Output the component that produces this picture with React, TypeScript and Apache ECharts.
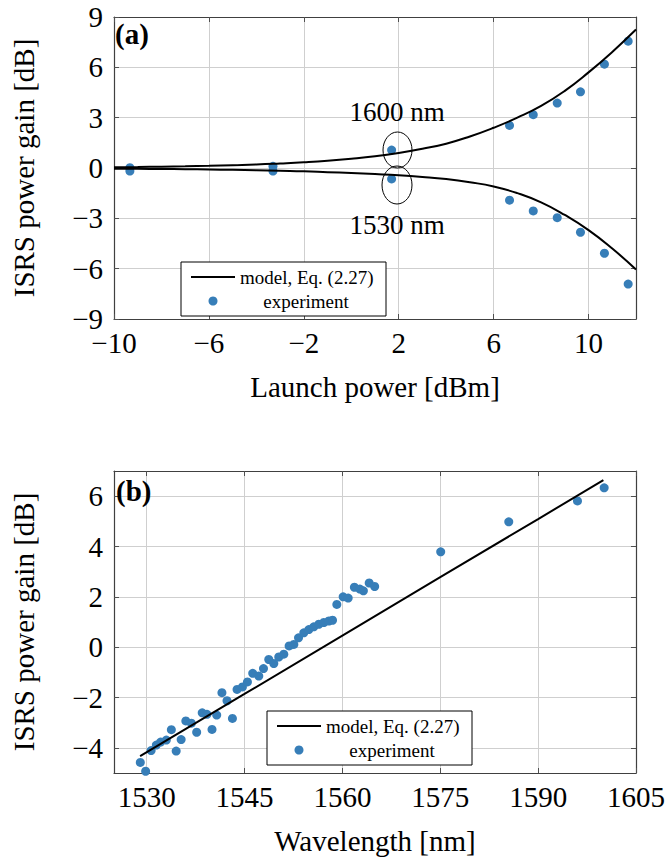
import React, { useEffect, useRef } from "react";
import * as echarts from "echarts";

// ---------- Panel (a) data ----------
const powerTicks = [-10, -6, -2, 2, 6, 10];
const gainTicksA = [-9, -6, -3, 0, 3, 6, 9];

const powerExp = [-9.33, -3.3, 1.7, 6.67, 7.67, 8.68, 9.66, 10.67, 11.67];
const gain1600Exp = [0.02, 0.1, 1.07, 2.54, 3.18, 3.87, 4.54, 6.19, 7.56];
const gain1530Exp = [-0.18, -0.18, -0.65, -1.92, -2.56, -2.96, -3.83, -5.08, -6.92];

const powerModel = [-10, -9, -8, -7, -6, -5, -4, -3, -2, -1, 0, 1, 2, 3, 4, 5, 6, 7, 8, 9, 10, 11, 12];
const gain1600Model = [
  0.05, 0.06, 0.08, 0.1, 0.13, 0.17, 0.21, 0.27, 0.34, 0.43, 0.55, 0.7,
  0.9, 1.15, 1.45, 1.88, 2.4, 3.0, 3.7, 4.6, 5.7, 6.92, 8.25,
];
const gain1530Model = [
  -0.04, -0.05, -0.06, -0.07, -0.09, -0.11, -0.14, -0.17, -0.2, -0.25, -0.3, -0.36,
  -0.43, -0.53, -0.66, -0.85, -1.1, -1.5, -2.05, -2.8, -3.7, -4.8, -6.05,
];

// ---------- Panel (b) data ----------
const wavelengthTicks = [1530, 1545, 1560, 1575, 1590, 1605];
const gainTicksB = [-4, -2, 0, 2, 4, 6];

const wavelengthExp = [
  1529.03, 1529.85, 1530.69, 1531.49, 1532.15, 1533.02, 1533.79, 1534.53, 1535.29, 1536.01,
  1536.86, 1537.67, 1538.52, 1539.25, 1540.02, 1540.74, 1541.54, 1542.32, 1543.15, 1543.86,
  1544.68, 1545.45, 1546.26, 1547.19, 1547.91, 1548.72, 1549.49, 1550.25, 1551.02, 1551.84,
  1552.56, 1553.28, 1554.09, 1554.86, 1555.62, 1556.39, 1557.16, 1557.93, 1558.49, 1559.15,
  1560.12, 1560.89, 1561.84, 1562.68, 1563.22, 1564.11, 1564.95, 1575.07, 1585.5, 1596.03,
  1600.12,
];
const gainExpB = [
  -4.58, -4.93, -4.11, -3.89, -3.77, -3.69, -3.28, -4.13, -3.67, -2.93,
  -3.02, -3.38, -2.61, -2.67, -3.27, -2.7, -1.81, -2.13, -2.83, -1.68,
  -1.58, -1.38, -1.04, -1.15, -0.85, -0.49, -0.65, -0.39, -0.28, 0.05,
  0.11, 0.37, 0.57, 0.7, 0.81, 0.91, 0.98, 1.04, 1.07, 1.7,
  2.0, 1.95, 2.38, 2.31, 2.24, 2.55, 2.41, 3.79, 4.98, 5.81,
  6.33,
];
const wavelengthModel = [1529, 1545, 1560, 1575, 1590, 1600];
const gainModelB = [-4.33, -1.86, 0.46, 2.78, 5.09, 6.64];

const BLUE = "#377eb8";
const FONT = "'Liberation Serif', 'Times New Roman', serif";
const fmt = (v: number) => String(v).replace("-", "\u2212");

function zip(xs: number[], ys: number[]) {
  return xs.map((x, i) => [x, ys[i]]);
}

function mainAxis(
  gridIndex: number,
  min: number,
  max: number,
  ticks: number[],
  name: string,
  isY: boolean
) {
  return {
    type: "value",
    gridIndex,
    min,
    max,
    position: isY ? "left" : "bottom",
    name,
    nameLocation: "middle",
    nameGap: isY ? 76 : 53,
    nameTextStyle: { fontFamily: FONT, fontSize: 29, color: "#000" },
    axisLine: { show: true, onZero: false, lineStyle: { color: "#404040", width: 1.2 } },
    axisTick: { show: true, inside: true, length: 5, customValues: ticks, lineStyle: { color: "#505050" } },
    axisLabel: {
      show: true,
      customValues: ticks,
      formatter: fmt,
      fontFamily: FONT,
      fontSize: 29,
      lineHeight: 22,
      color: "#000",
      margin: isY ? 11 : 13,
      showMinLabel: true,
      showMaxLabel: true,
      hideOverlap: false,
    },
    splitLine: { show: true, lineStyle: { color: "#cfcfcf", width: 1 } },
  };
}

function boxAxis(gridIndex: number, min: number, max: number, ticks: number[], isY: boolean) {
  return {
    type: "value",
    gridIndex,
    min,
    max,
    position: isY ? "right" : "top",
    axisLine: { show: true, onZero: false, lineStyle: { color: "#404040", width: 1.2 } },
    axisTick: { show: true, inside: true, length: 5, customValues: ticks, lineStyle: { color: "#505050" } },
    axisLabel: { show: false },
    splitLine: { show: false },
  };
}

function legendBox(x: number, y: number) {
  return [
    {
      type: "rect",
      shape: { x, y, width: 205, height: 54 },
      style: { fill: "#fff", stroke: "#000", lineWidth: 1 },
      z: 100,
    },
    {
      type: "line",
      shape: { x1: x + 10, y1: y + 15, x2: x + 54, y2: y + 15 },
      style: { stroke: "#000", lineWidth: 2 },
      z: 101,
    },
    {
      type: "text",
      x: x + 59,
      y: y + 15,
      style: { text: "model, Eq. (2.27)", fontFamily: FONT, fontSize: 19, fill: "#000", align: "left", verticalAlign: "middle" },
      z: 101,
    },
    {
      type: "circle",
      shape: { cx: x + 32, cy: y + 39, r: 4.5 },
      style: { fill: BLUE },
      z: 101,
    },
    {
      type: "text",
      x: x + 125,
      y: y + 39,
      style: { text: "experiment", fontFamily: FONT, fontSize: 19, fill: "#000", align: "center", verticalAlign: "middle" },
      z: 101,
    },
  ];
}

export default function App() {
  const ref = useRef<HTMLDivElement>(null);

  useEffect(() => {
    if (!ref.current) return;
    const chart = echarts.init(ref.current, undefined, { renderer: "svg" });

    const option: any = {
      animation: false,
      backgroundColor: "#fff",
      textStyle: { fontFamily: FONT },
      grid: [
        { left: 114, top: 17, width: 522, height: 302 },
        { left: 114, top: 471, width: 522, height: 302 },
      ],
      xAxis: [
        mainAxis(0, -10, 12, powerTicks, "Launch power [dBm]", false),
        boxAxis(0, -10, 12, powerTicks, false),
        mainAxis(1, 1525, 1605, wavelengthTicks, "Wavelength [nm]", false),
        boxAxis(1, 1525, 1605, wavelengthTicks, false),
      ],
      yAxis: [
        mainAxis(0, -9, 9, gainTicksA, "ISRS power gain [dB]", true),
        boxAxis(0, -9, 9, gainTicksA, true),
        mainAxis(1, -5, 7, gainTicksB, "ISRS power gain [dB]", true),
        boxAxis(1, -5, 7, gainTicksB, true),
      ],
      series: [
        {
          type: "line",
          name: "model 1600",
          xAxisIndex: 0,
          yAxisIndex: 0,
          data: zip(powerModel, gain1600Model),
          smooth: 0.5,
          showSymbol: false,
          lineStyle: { color: "#000", width: 2 },
        },
        {
          type: "line",
          name: "model 1530",
          xAxisIndex: 0,
          yAxisIndex: 0,
          data: zip(powerModel, gain1530Model),
          smooth: 0.5,
          showSymbol: false,
          lineStyle: { color: "#000", width: 2 },
        },
        {
          type: "scatter",
          name: "exp 1600",
          xAxisIndex: 0,
          yAxisIndex: 0,
          data: zip(powerExp, gain1600Exp),
          symbolSize: 9,
          itemStyle: { color: BLUE, opacity: 1 },
        },
        {
          type: "scatter",
          name: "exp 1530",
          xAxisIndex: 0,
          yAxisIndex: 0,
          data: zip(powerExp, gain1530Exp),
          symbolSize: 9,
          itemStyle: { color: BLUE, opacity: 1 },
        },
        {
          type: "line",
          name: "model b",
          xAxisIndex: 2,
          yAxisIndex: 2,
          data: zip(wavelengthModel, gainModelB),
          showSymbol: false,
          lineStyle: { color: "#000", width: 2 },
        },
        {
          type: "scatter",
          name: "exp b",
          xAxisIndex: 2,
          yAxisIndex: 2,
          data: zip(wavelengthExp, gainExpB),
          symbolSize: 9,
          itemStyle: { color: BLUE, opacity: 1 },
        },
      ],
      graphic: [
        {
          type: "text",
          x: 115,
          y: 34,
          style: { text: "(a)", fontFamily: FONT, fontSize: 29, fontWeight: "bold", fill: "#000", align: "left", verticalAlign: "middle" },
          z: 100,
        },
        {
          type: "text",
          x: 116,
          y: 491,
          style: { text: "(b)", fontFamily: FONT, fontSize: 29, fontWeight: "bold", fill: "#000", align: "left", verticalAlign: "middle" },
          z: 100,
        },
        {
          type: "text",
          x: 397,
          y: 112,
          style: { text: "1600 nm", fontFamily: FONT, fontSize: 27, fill: "#000", align: "center", verticalAlign: "middle" },
          z: 100,
        },
        {
          type: "text",
          x: 397,
          y: 225,
          style: { text: "1530 nm", fontFamily: FONT, fontSize: 27, fill: "#000", align: "center", verticalAlign: "middle" },
          z: 100,
        },
        {
          type: "ellipse",
          shape: { cx: 397.5, cy: 150, rx: 14.5, ry: 18 },
          style: { fill: "none", stroke: "#000", lineWidth: 1 },
          z: 100,
        },
        {
          type: "ellipse",
          shape: { cx: 397, cy: 185, rx: 15, ry: 19 },
          style: { fill: "none", stroke: "#000", lineWidth: 1 },
          z: 100,
        },
        ...legendBox(181, 262),
        ...legendBox(267, 711),
      ],
    };

    chart.setOption(option);
    return () => chart.dispose();
  }, []);

  return (
    <div
      ref={ref}
      style={{ position: "absolute", left: 0, top: 0, width: 669, height: 857 }}
    />
  );
}
